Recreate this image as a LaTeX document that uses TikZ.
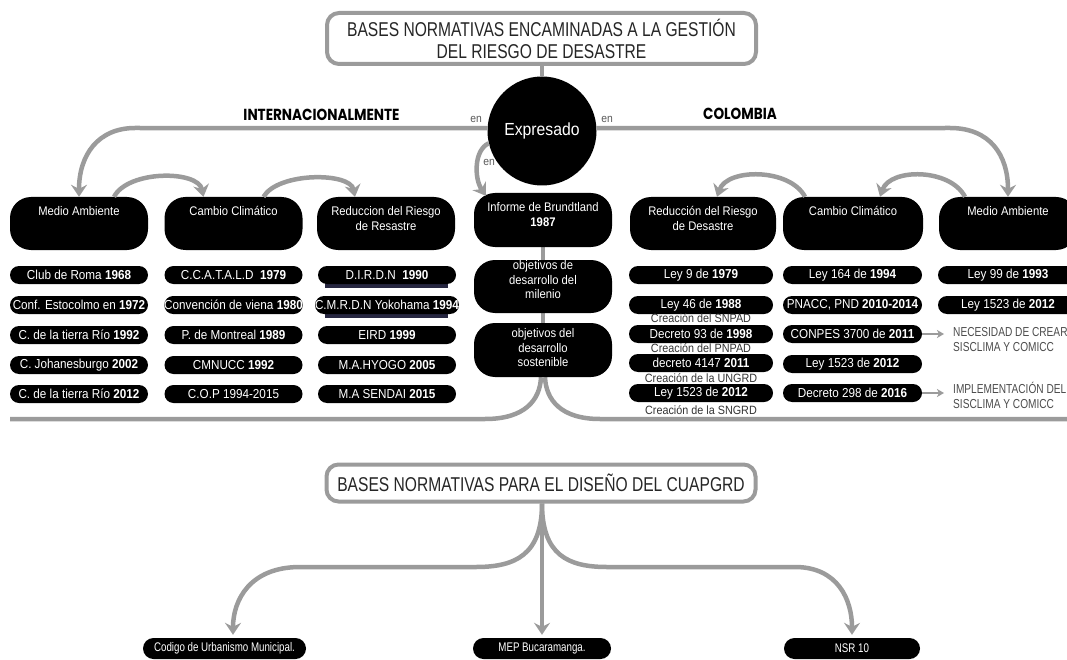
\documentclass[tikz,border=0pt]{standalone}
\usepackage{fontspec}
\setmainfont{Liberation Sans}
\newfontfamily\itemf{Liberation Sans}[FakeStretch=0.9]
\newfontfamily\titlef{Liberation Sans}[FakeStretch=0.78]
\newfontfamily\dispf{Poppins}[FakeStretch=0.85]
\usetikzlibrary{arrows.meta,calc}
\pgfdeclarelayer{background}
\pgfsetlayers{background,main}
\definecolor{conn}{HTML}{9B9B9B}
\definecolor{navyband}{HTML}{262640}
\begin{document}
\begin{tikzpicture}[x=1pt,y=-1pt,
  connline/.style={draw=conn, line width=4.5pt},
  conn/.style={connline, -{Stealth[length=12pt,width=16pt,inset=4pt]}},
  thinarr/.style={draw=conn, line width=2pt, -{Stealth[length=7pt,width=8pt,inset=2pt]}},
  titlebox/.style={draw=conn, line width=4pt, rounded corners=12pt, fill=white, align=center, inner sep=0pt, text=black!85},
  hdr/.style={fill=black, rounded corners=21pt, minimum width=138pt, minimum height=53pt, inner sep=0pt},
  hdrtxt/.style={text=white, font=\itemf\fontsize{12.5}{14.5}\selectfont, align=center, inner sep=0pt, anchor=north},
  item/.style={fill=black, text=white, rounded corners=9pt, minimum width=138pt, minimum height=18pt, inner sep=0pt, font=\itemf\fontsize{13}{15}\selectfont},
  captxt/.style={text=black!80, font=\itemf\fontsize{12}{14}\selectfont, inner sep=0pt},
  enlbl/.style={text=black!65, font=\itemf\fontsize{11.5}{13}\selectfont, inner sep=0pt},
  side/.style={text=black!70, font=\titlef\fontsize{13}{15}\selectfont, align=left, inner sep=0pt, anchor=west},
  disp/.style={font=\dispf\bfseries\fontsize{16}{18}\selectfont, inner sep=0pt},
  bot/.style={fill=black, text=white, rounded corners=10.5pt, minimum height=21pt, inner sep=0pt, font=\titlef\fontsize{12.5}{14}\selectfont},
]
\useasboundingbox (0,0) rectangle (1067,660);
\clip (0,0) rectangle (1067,660);

% ---------- top title and centre ----------
\node[titlebox, minimum width=429pt, minimum height=51pt, font=\titlef\fontsize{20}{22}\selectfont] (title) at (541.5,38.5) {BASES NORMATIVAS ENCAMINADAS A LA GESTIÓN\\DEL RIESGO DE DESASTRE};
\node[circle, fill=black, text=white, minimum size=109pt, inner sep=0pt, font=\itemf\fontsize{17.5}{20}\selectfont] (expr) at (542,131) {Expresado};

\node[disp] (intl) at (321.5,115) {INTERNACIONALMENTE};
\node[disp] (colo) at (740,114) {COLOMBIA};
\node[enlbl] (en1) at (476,119) {en};
\node[enlbl] (en2) at (607,119) {en};
\node[enlbl] (en3) at (489,162) {en};

% ---------- headers ----------
\node[hdr] (ma1) at (79,223.5) {};
\node[hdr] (cc1) at (233.5,223.5) {};
\node[hdr] (rr1) at (386,223.5) {};
\node[hdr, minimum height=54pt] (inf) at (543,220) {};
\node[hdr] (mil) at (543,286.5) {};
\node[hdr, minimum height=54pt] (sos) at (543,350) {};
\node[hdr, minimum width=146pt] (rr2) at (703,223.5) {};
\node[hdr, minimum width=140pt] (cc2) at (853,223.5) {};
\node[hdr] (ma2) at (1008,223.5) {};

\node[hdrtxt] (ma1t) at (79,205.3) {\strut Medio Ambiente};
\node[hdrtxt] (cc1t) at (233.5,205.3) {\strut Cambio Climático};
\node[hdrtxt] (rr1t) at (386,205.3) {\strut Reduccion del Riesgo\\de Resastre};
\node[hdrtxt] (inft) at (543,201.3) {\strut Informe de Brundtland\\\textbf{1987}};
\node[hdrtxt] (milt) at (543,259.3) {\strut objetivos de\\desarrollo del\\milenio};
\node[hdrtxt] (sost) at (543,327.3) {\strut objetivos del\\desarrollo\\sostenible};
\node[hdrtxt] (rr2t) at (703,205.3) {\strut Reducción del Riesgo\\de Desastre};
\node[hdrtxt] (cc2t) at (853,205.3) {\strut Cambio Climático};
\node[hdrtxt] (ma2t) at (1008,205.3) {\strut Medio Ambiente};

% ---------- international items ----------
\node[item] (a1) at (79,275) {Club de Roma \textbf{1968}};
\node[item] (a2) at (79,305) {Conf. Estocolmo en \textbf{1972}};
\node[item] (a3) at (79,335) {C. de la tierra Río \textbf{1992}};
\node[item] (a4) at (79,365) {C. Johanesburgo \textbf{2002}};
\node[item] (a5) at (79,394) {C. de la tierra Río \textbf{2012}};

\node[item] (b1i) at (233.5,275) {C.C.A.T.A.L.D\ \ \textbf{1979}};
\node[item] (b2i) at (233.5,305) {Convención de viena \textbf{1980}};
\node[item] (b3i) at (233.5,335) {P. de Montreal \textbf{1989}};
\node[item] (b4i) at (233.5,365) {CMNUCC \textbf{1992}};
\node[item] (b5i) at (233.5,394) {C.O.P 1994-2015};

\fill[navyband] (325,282) rectangle (448,287.5);
\fill[navyband] (325,312) rectangle (448,317.5);
\node[item] (c1) at (387,275) {D.I.R.D.N\ \ \textbf{1990}};
\node[item] (c2) at (387,305) {C.M.R.D.N Yokohama \textbf{1994}};
\node[item] (c3) at (387,335) {EIRD \textbf{1999}};
\node[item] (c4) at (387,365) {M.A.HYOGO \textbf{2005}};
\node[item] (c5) at (387,394) {M.A SENDAI \textbf{2015}};

% ---------- Colombia items ----------
\node[item, minimum width=144pt] (r1) at (701,275) {Ley 9 de \textbf{1979}};
\node[item, minimum width=144pt] (r2) at (701,305) {Ley 46 de \textbf{1988}};
\node[captxt] (r2c) at (701,318) {Creación del SNPAD};
\node[item, minimum width=144pt] (r3) at (701,334) {Decreto 93 de \textbf{1998}};
\node[captxt] (r3c) at (701,348) {Creación del PNPAD};
\node[item, minimum width=144pt] (r4) at (701,363) {decreto 4147 \textbf{2011}};
\node[captxt] (r4c) at (701,378) {Creación de la UNGRD};
\node[item, minimum width=144pt] (r5) at (701,393) {Ley 1523 de \textbf{2012}};
\node[captxt] (r5c) at (701,410) {Creación de la SNGRD};

\node[item, minimum width=139pt] (k1) at (852.5,275) {Ley 164 de \textbf{1994}};
\node[item, minimum width=139pt] (k2) at (852.5,305) {PNACC, PND \textbf{2010-2014}};
\node[item, minimum width=139pt] (k3) at (852.5,334) {CONPES 3700 de \textbf{2011}};
\node[item, minimum width=139pt] (k4) at (852.5,364) {Ley 1523 de \textbf{2012}};
\node[item, minimum width=139pt] (k5) at (852.5,393) {Decreto 298 de \textbf{2016}};

\node[item, minimum width=140pt] (m1) at (1008,275) {Ley 99 de \textbf{1993}};
\node[item, minimum width=140pt] (m2) at (1008,305) {Ley 1523 de \textbf{2012}};

\node[side] (nec) at (953,340) {NECESIDAD DE CREAR\\SISCLIMA Y COMICC};
\node[side] (imp) at (953,395) {IMPLEMENTACIÓN DEL\\SISCLIMA Y COMICC};
\draw[thinarr, shorten >=9pt] (k3.east) -- (nec.west |- k3.east);
\draw[thinarr, shorten >=9pt] (k5.east) -- (imp.west |- k5.east);

% ---------- connectors top ----------
\draw[connline] (title.south -| expr.north) -- (expr.north);
\draw[conn] (expr.177) -- (135,128) .. controls (98,128) and (79,155) .. (ma1.north);
\draw[conn] (expr.3) -- (950,128) .. controls (990,128) and (1008,155) .. (ma2.north);
\draw[conn] (expr.193) .. controls (474,150) and (474,178) .. ($(inf.north west)+(12,3)$);

\draw[conn] ($(ma1.north)+(35,0)$) .. controls (128,170) and (198,170) .. ($(cc1.north)+(-30,0)$);
\draw[conn] ($(cc1.north)+(30,0)$) .. controls (278,172) and (350,172) .. ($(rr1.north)+(-31,0)$);
\draw[conn] ($(ma2.north)+(-43,0)$) .. controls (950,168) and (890,168) .. ($(cc2.north)+(27,0)$);
\draw[conn] ($(cc2.north)+(-48,0)$) .. controls (790,168) and (727,168) .. ($(rr2.north)+(14,0)$);

\begin{pgfonlayer}{background}
\draw[connline] (inf.south) -- (sos.north);
\coordinate (sepL) at (10,419);
\coordinate (sepR) at (1075,419);
\draw[connline] (sepL) -- (485,419) .. controls (525,419) and (540,400) .. ($(sos.south)+(-2,0)$);
\draw[connline] ($(sos.south)+(2,0)$) .. controls (546,400) and (561,419) .. (600,419) -- (sepR);
\end{pgfonlayer}

% ---------- bottom ----------
\node[titlebox, minimum width=429pt, minimum height=37pt, font=\titlef\fontsize{20}{22}\selectfont] (t2) at (541,483) {BASES NORMATIVAS PARA EL DISEÑO DEL CUAPGRD};
\node[bot, minimum width=163pt] (bb1) at (224.5,648.5) {Codigo de Urbanismo Municipal.};
\node[bot, minimum width=138pt] (bb2) at (542,648.5) {MEP Bucaramanga.};
\node[bot, minimum width=136pt] (bb3) at (852,648.5) {NSR 10};

\begin{pgfonlayer}{background}
\draw[conn, shorten >=3pt] (t2.south -| bb2.north) -- (bb2.north);
\draw[conn, shorten >=3pt] (t2.south -| bb2.north) .. controls (542,555) and (515,567) .. (476,567) -- (300,567) .. controls (250,567) and (233,600) .. ($(bb1.north)+(8.5,0)$);
\draw[conn, shorten >=3pt] (t2.south -| bb2.north) .. controls (542,555) and (568,567) .. (607,567) -- (795,567) .. controls (838,567) and (852,600) .. (bb3.north);
\end{pgfonlayer}
\end{tikzpicture}
\end{document}
